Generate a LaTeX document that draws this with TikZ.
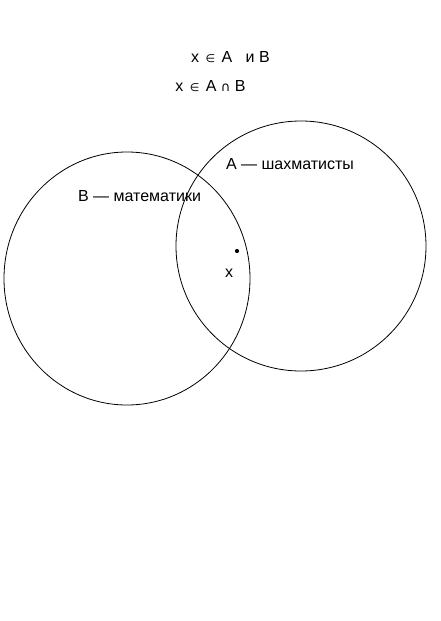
\documentclass[tikz,border=0pt]{standalone}
\usepackage{fontspec}
\setmainfont{Liberation Sans}
\newfontfamily\symfont{DejaVu Sans}
\usepackage{tikz}
\usetikzlibrary{positioning}

\newcommand{\elem}{\hspace{2pt}{\symfont\fontsize{11}{13}\selectfont ∈}\hspace{2pt}}
\newcommand{\isect}{{\symfont\fontsize{13}{15}\selectfont ∩}}

\begin{document}
\begin{tikzpicture}[
    x=1pt, y=-1pt,
    lbl/.style={inner sep=0pt, font=\fontsize{16}{19}\selectfont},
    set/.style={draw=black, line width=0.8pt}
]
\useasboundingbox[fill=white] (0,0) rectangle (441,621);

\node[lbl] (rel1) at (230.5,57) {x \elem\ A\ \ \ и B};
\node[lbl] (rel2) at (210.5,86) {x \elem\ A \isect\ B};

\draw[set] (127,278.5) ellipse [x radius=123, y radius=126.5];
\draw[set] (301,246) ellipse [x radius=125, y radius=125];

\node[lbl] (setA) at (290,164) {A — шахматисты};
\node[lbl] (setB) at (139.5,196) {B — математики};

\fill (237,251) circle (2.1);
\node[lbl] (elx) at (229,273) {x};

\end{tikzpicture}
\end{document}
